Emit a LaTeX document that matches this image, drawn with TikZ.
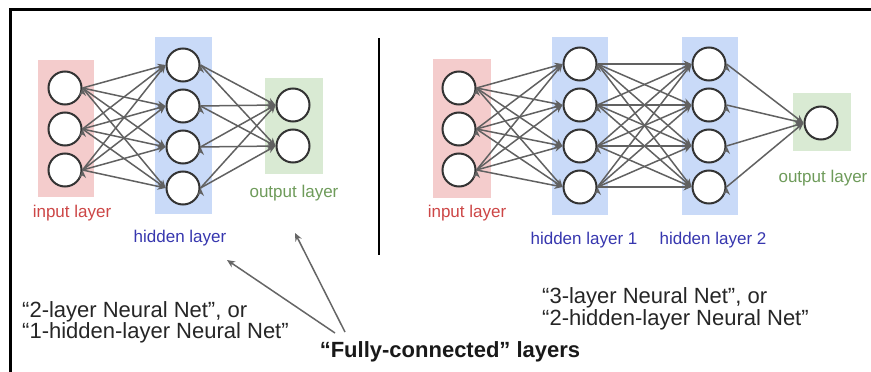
\documentclass[tikz,border=0pt]{standalone}
\usepackage{fontspec}
\setmainfont{Liberation Sans}
\usetikzlibrary{arrows.meta}
\definecolor{inbg}{RGB}{244,204,204}
\definecolor{hidbg}{RGB}{201,218,248}
\definecolor{outbg}{RGB}{217,234,211}
\definecolor{intxt}{RGB}{205,70,70}
\definecolor{hidtxt}{RGB}{55,55,175}
\definecolor{outtxt}{RGB}{110,155,90}
\tikzset{>={Stealth[length=8pt,width=7pt]}}
\tikzset{
  neuron/.style={circle,draw=black!80,line width=2pt,fill=white,minimum size=33pt,inner sep=0pt},
  conn/.style={->,draw=black!62,line width=1.5pt},
  pointer/.style={->,draw=black!60,line width=1.5pt},
  lbl/.style={font=\fontsize{17}{20}\selectfont,inner sep=0pt},
  note/.style={font=\fontsize{22}{20.5}\selectfont,text=black!85,inner sep=0pt,align=left,anchor=west},
}

\begin{document}
\begin{tikzpicture}[x=1pt,y=-1pt]
  \useasboundingbox (0,0) rectangle (871,372);
  \fill[white] (0,0) rectangle (871,372);
  \draw[line width=3pt] (10,372) -- (10,9) -- (871,9);
  \draw[line width=2.5pt] (379,38) -- (379,255);

  \fill[inbg] (38,60) rectangle (94,197);
  \fill[hidbg] (155,37) rectangle (212,214);
  \fill[outbg] (265,78) rectangle (323,174);

  \fill[inbg] (433,59) rectangle (491,198);
  \fill[hidbg] (552,37) rectangle (608,215);
  \fill[hidbg] (682,37) rectangle (738,215);
  \fill[outbg] (793,93) rectangle (851,151);

  \node[neuron] (li1) at (65,88) {};
  \node[neuron] (li2) at (65,129) {};
  \node[neuron] (li3) at (65,170) {};
  \node[neuron] (lh1) at (183,65) {};
  \node[neuron] (lh2) at (183,106) {};
  \node[neuron] (lh3) at (183,147) {};
  \node[neuron] (lh4) at (183,188) {};
  \node[neuron] (lo1) at (293,105) {};
  \node[neuron] (lo2) at (293,146) {};

  \node[neuron] (ri1) at (459,88) {};
  \node[neuron] (ri2) at (459,129) {};
  \node[neuron] (ri3) at (459,170) {};
  \node[neuron] (rh1) at (580,64) {};
  \node[neuron] (rh2) at (580,105) {};
  \node[neuron] (rh3) at (580,146) {};
  \node[neuron] (rh4) at (580,187) {};
  \node[neuron] (rk1) at (709,64) {};
  \node[neuron] (rk2) at (709,105) {};
  \node[neuron] (rk3) at (709,146) {};
  \node[neuron] (rk4) at (709,187) {};
  \node[neuron] (ro1) at (821,123) {};

  \draw[conn] (li1.east) edge (lh1.west) edge (lh2.west) edge (lh3.west) edge (lh4.west);
  \draw[conn] (li2.east) edge (lh1.west) edge (lh2.west) edge (lh3.west) edge (lh4.west);
  \draw[conn] (li3.east) edge (lh1.west) edge (lh2.west) edge (lh3.west) edge (lh4.west);
  \draw[conn] (lh1.east) edge (lo1.west) edge (lo2.west);
  \draw[conn] (lh2.east) edge (lo1.west) edge (lo2.west);
  \draw[conn] (lh3.east) edge (lo1.west) edge (lo2.west);
  \draw[conn] (lh4.east) edge (lo1.west) edge (lo2.west);

  \draw[conn] (ri1.east) edge (rh1.west) edge (rh2.west) edge (rh3.west) edge (rh4.west);
  \draw[conn] (ri2.east) edge (rh1.west) edge (rh2.west) edge (rh3.west) edge (rh4.west);
  \draw[conn] (ri3.east) edge (rh1.west) edge (rh2.west) edge (rh3.west) edge (rh4.west);
  \draw[conn] (rh1.east) edge (rk1.west) edge (rk2.west) edge (rk3.west) edge (rk4.west);
  \draw[conn] (rh2.east) edge (rk1.west) edge (rk2.west) edge (rk3.west) edge (rk4.west);
  \draw[conn] (rh3.east) edge (rk1.west) edge (rk2.west) edge (rk3.west) edge (rk4.west);
  \draw[conn] (rh4.east) edge (rk1.west) edge (rk2.west) edge (rk3.west) edge (rk4.west);
  \draw[conn] (rk1.east) edge (ro1.west);
  \draw[conn] (rk2.east) edge (ro1.west);
  \draw[conn] (rk3.east) edge (ro1.west);
  \draw[conn] (rk4.east) edge (ro1.west);

  \node[lbl,text=intxt] (linlbl) at (72,213) {input layer};
  \node[lbl,text=hidtxt] (lhidlbl) at (180,238) {hidden layer};
  \node[lbl,text=outtxt] (loutlbl) at (294,193) {output layer};
  \node[lbl,text=intxt] (rinlbl) at (467,213) {input layer};
  \node[lbl,text=hidtxt] (rhidlbl) at (584,240) {hidden layer 1};
  \node[lbl,text=hidtxt] (rkidlbl) at (713,240) {hidden layer 2};
  \node[lbl,text=outtxt] (routlbl) at (823,178) {output layer};

  \node[note] (twolayer) at (22,322.5) {“2-layer Neural Net”, or\\“1-hidden-layer Neural Net”};
  \node[note] (threelayer) at (542,309) {“3-layer Neural Net”, or\\“2-hidden-layer Neural Net”};
  \node[font=\bfseries\fontsize{22}{24}\selectfont,text=black!90,inner sep=0pt] (fc) at (450,352) {“Fully-connected” layers};

  \coordinate (fctail1) at (335,333);
  \coordinate (fctail2) at (345,332);
  \coordinate (fchead1) at (227,260);
  \coordinate (fchead2) at (295,233);
  \draw[pointer] (fctail1) -- (fchead1);
  \draw[pointer] (fctail2) -- (fchead2);
\end{tikzpicture}
\end{document}
